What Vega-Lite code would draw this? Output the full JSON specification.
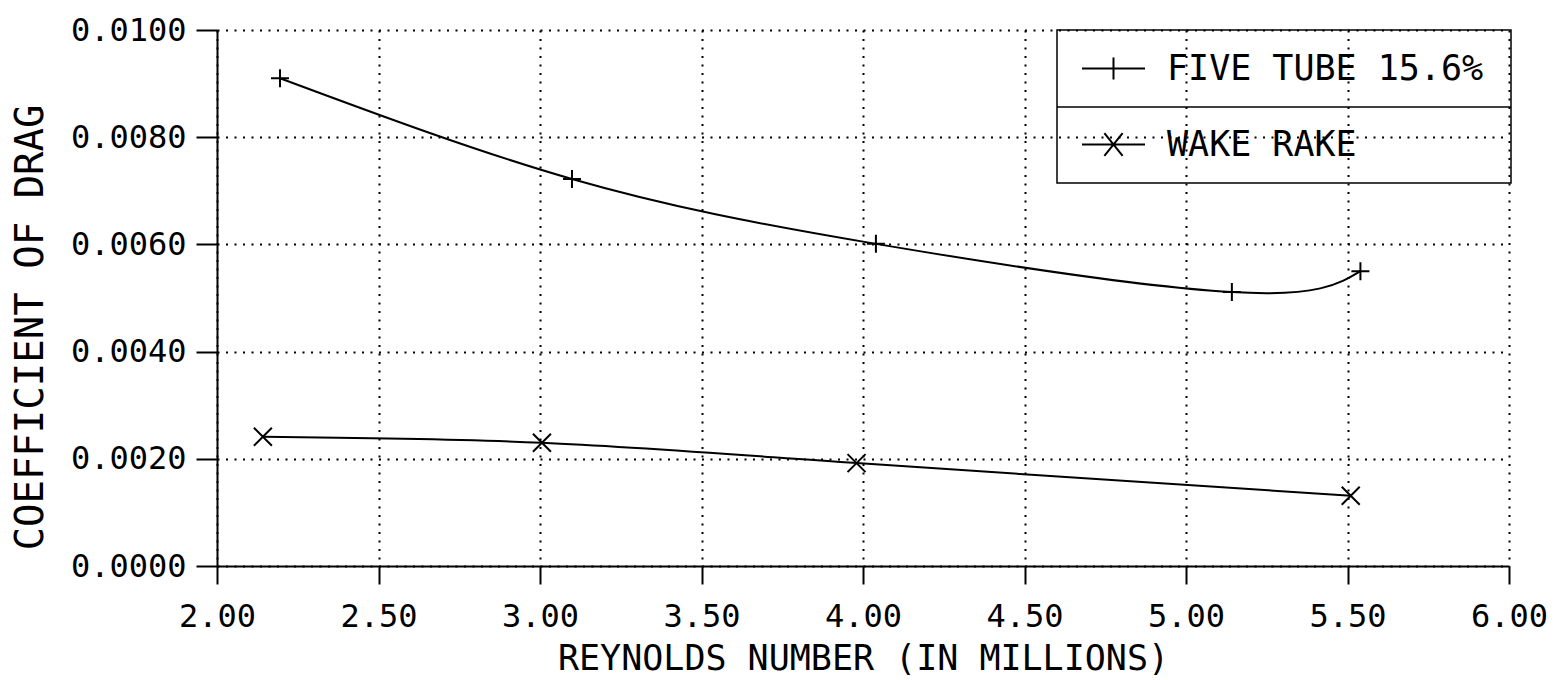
{
  "$schema": "https://vega.github.io/schema/vega-lite/v6.json",
  "width": 1292,
  "height": 536,
  "autosize": {"type": "none"},
  "padding": {"left": 217, "top": 30, "right": 50, "bottom": 114},
  "background": "white",
  "data": {
    "values": [
      {"series": "FIVE TUBE 15.6%", "re": 2.195, "cd": 0.0091},
      {"series": "FIVE TUBE 15.6%", "re": 3.099, "cd": 0.00722},
      {"series": "FIVE TUBE 15.6%", "re": 4.04, "cd": 0.00601},
      {"series": "FIVE TUBE 15.6%", "re": 5.142, "cd": 0.00511},
      {"series": "FIVE TUBE 15.6%", "re": 5.54, "cd": 0.0055},
      {"series": "WAKE RAKE", "re": 2.142, "cd": 0.00241},
      {"series": "WAKE RAKE", "re": 3.006, "cd": 0.0023},
      {"series": "WAKE RAKE", "re": 3.98, "cd": 0.00192},
      {"series": "WAKE RAKE", "re": 5.51, "cd": 0.00131}
    ]
  },
  "encoding": {
    "x": {
      "field": "re", "type": "quantitative",
      "scale": {"domain": [2, 6], "nice": false, "zero": false},
      "axis": {
        "values": [2, 2.5, 3, 3.5, 4, 4.5, 5, 5.5, 6],
        "format": ".2f",
        "title": "REYNOLDS NUMBER (IN MILLIONS)",
        "tickSize": 18,
        "labelPadding": 17,
        "titlePadding": 9,
        "titleFontSize": 35
      }
    },
    "y": {
      "field": "cd", "type": "quantitative",
      "scale": {"domain": [0, 0.01], "nice": false},
      "axis": {
        "values": [0, 0.002, 0.004, 0.006, 0.008, 0.01],
        "format": ".4f",
        "title": "COEFFICIENT OF DRAG",
        "tickSize": 21,
        "labelPadding": 10,
        "titleFontSize": 39,
        "titleAngle": -90,
        "titleAlign": "center",
        "titleBaseline": "middle",
        "titleX": -187,
        "titleY": 297
      }
    }
  },
  "layer": [
    {
      "mark": {"type": "line", "interpolate": "natural", "color": "black", "strokeWidth": 2},
      "encoding": {"detail": {"field": "series"}}
    },
    {
      "mark": {"type": "point", "filled": false, "color": "black", "strokeWidth": 2, "size": 324, "opacity": 1},
      "encoding": {
        "shape": {
          "field": "series",
          "scale": {"domain": ["FIVE TUBE 15.6%", "WAKE RAKE"], "range": ["M0,-1V1M-1,0H1", "M-1,-1L1,1M-1,1L1,-1"]},
          "legend": null
        }
      }
    },
    {
      "mark": {"type": "point", "filled": false, "opacity": 0},
      "encoding": {
        "shape": {
          "field": "series",
          "scale": {"domain": ["FIVE TUBE 15.6%", "WAKE RAKE"], "range": ["M-1,0H1M0,-0.35V0.35", "M-1,0H1M-0.29,-0.36L0.29,0.36M-0.29,0.36L0.29,-0.36"]},
          "legend": {
            "orient": "none", "legendX": 864, "legendY": 6, "title": null,
            "padding": 0, "strokeColor": null, "rowPadding": 25,
            "symbolSize": 3969, "symbolStrokeWidth": 2, "symbolStrokeColor": "black",
            "symbolFillColor": "transparent", "symbolOpacity": 1,
            "symbolOffset": 0, "labelOffset": 21,
            "labelFont": "DejaVu Sans Mono", "labelFontSize": 35, "labelColor": "black", "labelLimit": 0
          }
        }
      }
    },
    {
      "transform": [{"filter": "datum.series == 'WAKE RAKE'"}],
      "mark": {"type": "point", "filled": false, "opacity": 0},
      "encoding": {
        "color": {
          "field": "cd", "type": "quantitative",
          "scale": {"range": ["black", "black"]},
          "legend": {
            "type": "gradient", "direction": "horizontal",
            "orient": "none", "legendX": 840, "legendY": 77, "title": null,
            "padding": 0, "values": [],
            "gradientLength": 454, "gradientThickness": 0,
            "gradientStrokeColor": "black", "gradientStrokeWidth": 1.5
          }
        }
      }
    },
    {
      "transform": [{"filter": "datum.series == 'FIVE TUBE 15.6%'"}],
      "mark": {"type": "point", "filled": true, "opacity": 0},
      "encoding": {
        "fill": {
          "field": "cd", "type": "quantitative",
          "scale": {"range": ["rgba(255,255,255,0)", "rgba(255,255,255,0)"]},
          "legend": {
            "type": "gradient", "direction": "horizontal",
            "orient": "none", "legendX": 840, "legendY": 0, "title": null,
            "padding": 0, "values": [],
            "gradientLength": 454, "gradientThickness": 153,
            "gradientStrokeColor": "black", "gradientStrokeWidth": 1.5
          }
        }
      }
    }
  ],
  "resolve": {"scale": {"shape": "independent"}},
  "config": {
    "view": {"stroke": null},
    "font": "DejaVu Sans Mono",
    "axis": {
      "labelFont": "DejaVu Sans Mono",
      "labelFontSize": 32,
      "labelColor": "black",
      "titleFont": "DejaVu Sans Mono",
      "titleFontWeight": "normal",
      "titleColor": "black",
      "domainColor": "black",
      "domainWidth": 2,
      "tickColor": "black",
      "tickWidth": 2,
      "grid": true,
      "gridColor": "black",
      "gridWidth": 2,
      "gridDash": [2, 6.5],
      "gridOpacity": 1,
      "labelFlush": false,
      "labelOverlap": false
    }
  }
}
